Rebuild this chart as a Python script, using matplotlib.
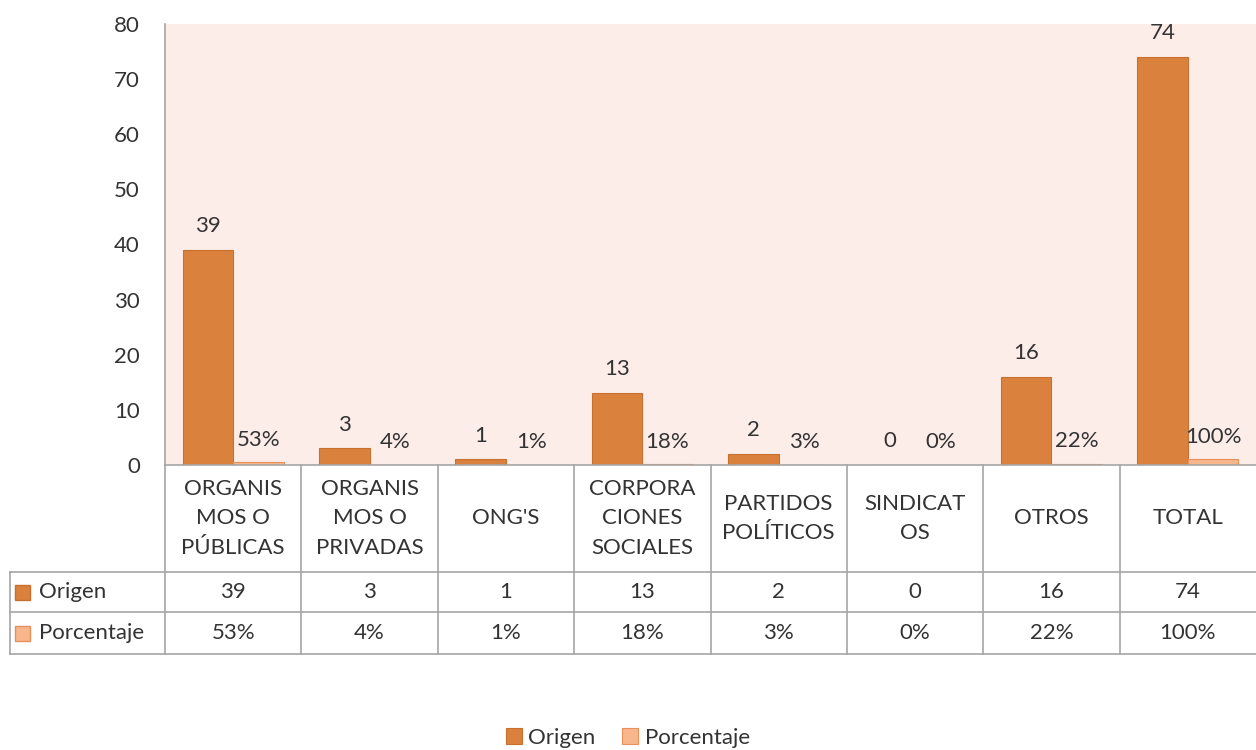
import matplotlib.pyplot as plt
from matplotlib.patches import Rectangle

categories = ['ORGANIS\nMOS O\nPÚBLICAS', 'ORGANIS\nMOS O\nPRIVADAS', "ONG'S",
              'CORPORA\nCIONES\nSOCIALES', 'PARTIDOS\nPOLÍTICOS', 'SINDICAT\nOS',
              'OTROS', 'TOTAL']
origen = [39, 3, 1, 13, 2, 0, 16, 74]
porcentaje = [0.53, 0.04, 0.01, 0.18, 0.03, 0.00, 0.22, 1.00]
series_names = ['Origen', 'Porcentaje']
y_ticks = [0, 10, 20, 30, 40, 50, 60, 70, 80]

c_origen = '#DA813D'
c_porc = '#F8B68C'
edge_origen = '#C8702E'
edge_porc = '#E8905A'
grid_col = '#A6A6A6'
txt_col = '#333333'
fs = 16

plt.rcParams['font.family'] = ['Lato', 'DejaVu Sans']
plt.rcParams['font.size'] = fs

W, H = 1256, 750
fig = plt.figure(figsize=(W / 100, H / 100), dpi=100)

left, right, top, bottom = 165, 1256, 24, 465
ax = fig.add_axes([left / W, 1 - bottom / H, (right - left) / W, (bottom - top) / H])
ax.set_facecolor('#FCEDE9')

n = len(categories)
bw = 0.37
xs = list(range(n))
ax.bar([x - bw / 2 for x in xs], origen, width=bw, color=c_origen,
       edgecolor=edge_origen, linewidth=0.8, label=series_names[0])
ax.bar([x + bw / 2 for x in xs], porcentaje, width=bw, color=c_porc,
       edgecolor=edge_porc, linewidth=0.8, label=series_names[1])

for x, v in zip(xs, origen):
    ax.annotate(str(v), (x - bw / 2, v), xytext=(0, 10), textcoords='offset points',
                ha='center', va='bottom', color=txt_col, fontsize=fs)
for x, v in zip(xs, porcentaje):
    ax.annotate('%d%%' % round(v * 100), (x + bw / 2, v), xytext=(0, 9),
                textcoords='offset points', ha='center', va='bottom',
                color=txt_col, fontsize=fs)

ax.set_xlim(-0.5, n - 0.5)
ax.set_ylim(0, 80)
ax.set_yticks(y_ticks)
ax.tick_params(axis='y', length=0, pad=18, labelcolor=txt_col, labelsize=fs)
ax.set_xticks([])
for s in ['top', 'right', 'bottom']:
    ax.spines[s].set_visible(False)
ax.spines['left'].set_color(grid_col)
ax.spines['left'].set_linewidth(1.2)

# data table below the plot, in pixel coordinates
tab = fig.add_axes([0, 0, 1, 1])
tab.set_xlim(0, W)
tab.set_ylim(H, 0)
tab.axis('off')
tab.patch.set_alpha(0)

cw = (right - left) / n
row_cat, row_o, row_p, row_end = 465, 572, 612, 654
tab_left = 10
lkw = dict(color=grid_col, linewidth=1.2)
tab.plot([left, right], [row_cat, row_cat], **lkw)
for y in [row_o, row_p, row_end]:
    tab.plot([tab_left, right], [y, y], **lkw)
tab.plot([tab_left, tab_left], [row_o, row_end], **lkw)
for i in range(n):
    x = left + i * cw
    tab.plot([x, x], [row_cat, row_end], **lkw)

for i, cat in enumerate(categories):
    cx = left + (i + 0.5) * cw
    tab.text(cx, (row_cat + row_o) / 2, cat, ha='center', va='center',
             color=txt_col, fontsize=fs, linespacing=1.6)
    tab.text(cx, (row_o + row_p) / 2, str(origen[i]), ha='center', va='center',
             color=txt_col, fontsize=fs)
    tab.text(cx, (row_p + row_end) / 2, '%d%%' % round(porcentaje[i] * 100),
             ha='center', va='center', color=txt_col, fontsize=fs)

for (y0, y1), name, fc, ec in [((row_o, row_p), series_names[0], c_origen, edge_origen),
                               ((row_p, row_end), series_names[1], c_porc, edge_porc)]:
    cy = (y0 + y1) / 2
    tab.add_patch(Rectangle((15, cy - 7.5), 15, 15, facecolor=fc, edgecolor=ec, linewidth=1))
    tab.text(39, cy, name, ha='left', va='center', color=txt_col, fontsize=fs)

handles, labels = ax.get_legend_handles_labels()
fig.legend(handles, labels, loc='center', bbox_to_anchor=(0.5, 1 - 738 / H),
           ncol=2, frameon=False, fontsize=fs, handlelength=0.7, handleheight=0.7,
           handletextpad=0.3, columnspacing=1.2, labelcolor=txt_col)

fig.savefig('out.png', dpi=100)
